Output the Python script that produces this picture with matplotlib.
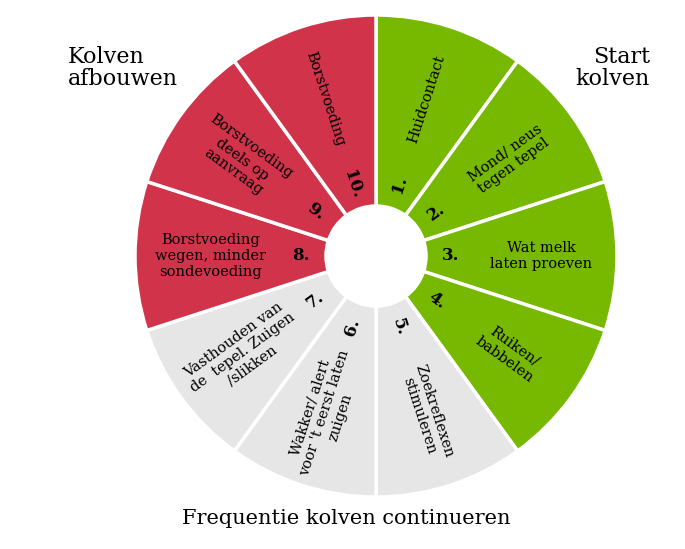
import matplotlib
matplotlib.use("Agg")
import matplotlib.pyplot as plt
import numpy as np

labels = ["Huidcontact", "Mond/ neus\ntegen tepel", "Wat melk\nlaten proeven", "Ruiken/\nbabbelen",
          "Zoekreflexen\nstimuleren", "Wakker/ alert\nvoor 't eerst laten\nzuigen",
          "Vasthouden van\nde  tepel. Zuigen\n/slikken", "Borstvoeding\nwegen, minder\nsondevoeding",
          "Borstvoeding\ndeels op\naanvraag", "Borstvoeding"]
numbers = ["1.", "2.", "3.", "4.", "5.", "6.", "7.", "8.", "9.", "10."]
values = [1] * 10
green, gray, red = "#77B800", "#E6E6E6", "#D0334A"
colors = [green] * 4 + [gray] * 3 + [red] * 3

fig = plt.figure(figsize=(6.85, 5.49), dpi=100)
ax = fig.add_axes([0, 0, 1, 1])
ax.set_xlim(0, 685); ax.set_ylim(0, 549); ax.set_aspect("equal"); ax.axis("off")
cx, cy, R = 376, 549 - 256, 241
ax.pie(values, colors=colors, startangle=90, counterclock=False, center=(cx, cy), radius=R,
       wedgeprops=dict(width=R - 50, edgecolor="white", linewidth=2.5))
ax.set_xlim(0, 685); ax.set_ylim(0, 549)
font = "DejaVu Serif"
for i, (lab, num) in enumerate(zip(labels, numbers)):
    ang = 90 - 36 * i - 18
    a = np.deg2rad(ang)
    rot = ang if -90 <= ang <= 90 else ang + 180
    if rot > 90: rot -= 180
    ax.text(cx + 165 * np.cos(a), cy + 165 * np.sin(a), lab, rotation=rot, ha="center", va="center",
            rotation_mode="anchor", fontsize=10.5, family=font, linespacing=1.15)
    ax.text(cx + 75 * np.cos(a), cy + 75 * np.sin(a), num, rotation=rot, ha="center", va="center",
            rotation_mode="anchor", fontsize=12, family=font, fontweight="bold")
ax.text(68, 549 - 68, "Kolven\nafbouwen", fontsize=16, family=font, ha="left", va="center", linespacing=1.0)
ax.text(650, 549 - 68, "Start\nkolven", fontsize=16, family=font, ha="right", va="center", linespacing=1.0)
ax.text(346, 549 - 518, "Frequentie kolven continueren", fontsize=15, family=font, ha="center", va="center")
fig.savefig("out.png", dpi=100)
